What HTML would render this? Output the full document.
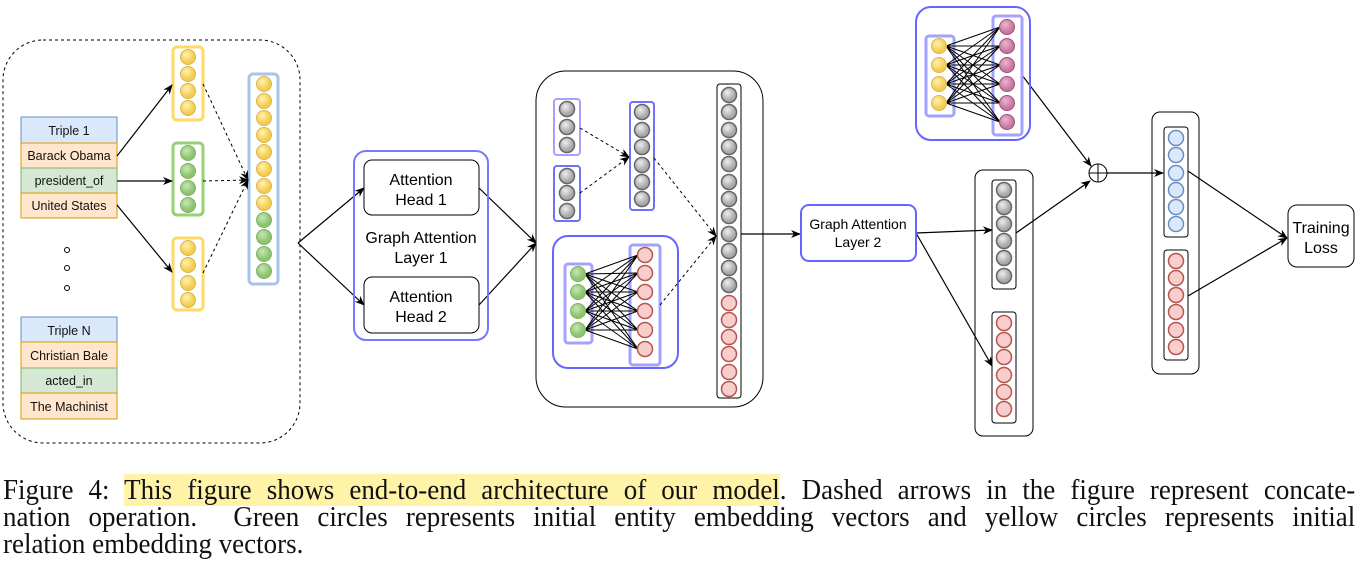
<!DOCTYPE html>
<html><head><meta charset="utf-8"><style>
body{margin:0;width:1362px;height:578px;background:#fff;overflow:hidden;position:relative}
svg{position:absolute;left:0;top:0}
.cap{position:absolute;left:3px;width:1454px;font-family:"Liberation Serif",serif;font-size:29px;color:#111;line-height:27px;white-space:nowrap;transform:scaleX(0.93);transform-origin:0 0}
.j{text-align:justify;text-align-last:justify;white-space:normal}
.hl{background:#fff3a8}
</style></head><body>
<svg width="1362" height="470" viewBox="0 0 1362 470" font-family="Liberation Sans, sans-serif">
<defs>
<radialGradient id="gy" cx="0.4" cy="0.35"><stop offset="0" stop-color="#fff2b0"/><stop offset="1" stop-color="#f5cc50"/></radialGradient>
<radialGradient id="gg" cx="0.4" cy="0.35"><stop offset="0" stop-color="#c6e8b4"/><stop offset="1" stop-color="#8cc36e"/></radialGradient>
<radialGradient id="ga" cx="0.4" cy="0.35"><stop offset="0" stop-color="#eeeeee"/><stop offset="1" stop-color="#a8a8a8"/></radialGradient>
<radialGradient id="gp" cx="0.4" cy="0.35"><stop offset="0" stop-color="#eab6d2"/><stop offset="1" stop-color="#c9779f"/></radialGradient>
<g id="cy"><circle r="7.5" fill="url(#gy)" stroke="#d6b656" stroke-width="1"/></g>
<g id="cg"><circle r="7.5" fill="url(#gg)" stroke="#82b366" stroke-width="1"/></g>
<g id="ca"><circle r="7.5" fill="url(#ga)" stroke="#666" stroke-width="1.5"/></g>
<g id="cr"><circle r="7.5" fill="#f8cecc" stroke="#b85450" stroke-width="1.5"/></g>
<g id="cb"><circle r="7.5" fill="#dae8fc" stroke="#6c8ebf" stroke-width="1.5"/></g>
<g id="cp"><circle r="7.5" fill="url(#gp)" stroke="#9e4f79" stroke-width="1"/></g>
<marker id="ar" markerWidth="10" markerHeight="10" refX="9" refY="5" orient="auto" markerUnits="userSpaceOnUse"><path d="M0,1 L10,5 L0,9 L3,5 Z" fill="#000"/></marker>
</defs>

<rect x="3" y="40" width="297" height="403" rx="40" fill="none" stroke="#000" stroke-dasharray="3,3"/>
<g font-size="12.5" text-anchor="middle" fill="#111">
<rect x="21" y="117" width="96" height="26" fill="#dae8fc" stroke="#6c8ebf"/><text x="69" y="135">Triple 1</text>
<rect x="21" y="143" width="96" height="25" fill="#ffe6cc" stroke="#d79b00"/><text x="69" y="160">Barack Obama</text>
<rect x="21" y="168" width="96" height="25" fill="#d5e8d4" stroke="#82b366"/><text x="69" y="185">president_of</text>
<rect x="21" y="193" width="96" height="25" fill="#ffe6cc" stroke="#d79b00"/><text x="69" y="210">United States</text>
<rect x="21" y="317" width="96" height="25" fill="#dae8fc" stroke="#6c8ebf"/><text x="69" y="335">Triple N</text>
<rect x="21" y="342" width="96" height="26" fill="#ffe6cc" stroke="#d79b00"/><text x="69" y="360">Christian Bale</text>
<rect x="21" y="368" width="96" height="25" fill="#d5e8d4" stroke="#82b366"/><text x="69" y="385">acted_in</text>
<rect x="21" y="393" width="96" height="26" fill="#ffe6cc" stroke="#d79b00"/><text x="69" y="411">The Machinist</text>
</g>
<g fill="none" stroke="#000"><circle cx="67" cy="250" r="2.5"/><circle cx="67" cy="268" r="2.5"/><circle cx="67" cy="288" r="2.5"/></g>

<rect x="173" y="47" width="30" height="73" rx="4" fill="none" stroke="#ffd966" stroke-width="3"/>
<use href="#cy" x="188" y="57"/><use href="#cy" x="188" y="74"/><use href="#cy" x="188" y="91"/><use href="#cy" x="188" y="108"/>
<rect x="173" y="143" width="30" height="72" rx="4" fill="none" stroke="#97d077" stroke-width="3"/>
<use href="#cg" x="188" y="153"/><use href="#cg" x="188" y="171"/><use href="#cg" x="188" y="188"/><use href="#cg" x="188" y="205"/>
<rect x="173" y="238" width="30" height="72" rx="4" fill="none" stroke="#ffd966" stroke-width="3"/>
<use href="#cy" x="188" y="248"/><use href="#cy" x="188" y="265"/><use href="#cy" x="188" y="283"/><use href="#cy" x="188" y="300"/>

<rect x="249" y="74" width="29" height="210" rx="4" fill="none" stroke="#a9c4eb" stroke-width="3"/>
<use href="#cy" x="264" y="84"/><use href="#cy" x="264" y="101"/><use href="#cy" x="264" y="118"/><use href="#cy" x="264" y="135"/><use href="#cy" x="264" y="152"/><use href="#cy" x="264" y="169"/><use href="#cy" x="264" y="186"/><use href="#cy" x="264" y="203"/>
<use href="#cg" x="264" y="220"/><use href="#cg" x="264" y="237"/><use href="#cg" x="264" y="254"/><use href="#cg" x="264" y="271"/>

<g stroke="#000" stroke-width="1.2" fill="none" marker-end="url(#ar)">
<line x1="117" y1="156" x2="172" y2="85"/>
<line x1="117" y1="181" x2="172" y2="181"/>
<line x1="117" y1="205" x2="172" y2="272"/>
</g>
<g stroke="#000" stroke-width="1" fill="none" stroke-dasharray="3,3" marker-end="url(#ar)">
<line x1="203" y1="84" x2="248" y2="180"/>
<line x1="203" y1="181" x2="248" y2="180"/>
<line x1="203" y1="273" x2="248" y2="180"/>
</g>

<g stroke="#000" stroke-width="1.2" fill="none" marker-end="url(#ar)">
<line x1="298" y1="243" x2="364" y2="188"/>
<line x1="298" y1="243" x2="364" y2="305"/>
<line x1="479" y1="188" x2="536" y2="243"/>
<line x1="479" y1="305" x2="536" y2="243"/>
</g>
<rect x="354" y="151" width="134" height="189" rx="12" fill="none" stroke="#7777ff" stroke-width="2"/>
<rect x="364" y="160" width="115" height="55" rx="8" fill="#fff" stroke="#000"/>
<rect x="364" y="277" width="115" height="56" rx="8" fill="#fff" stroke="#000"/>
<g font-size="16" text-anchor="middle" fill="#000">
<text x="421" y="185">Attention</text><text x="421" y="205">Head 1</text>
<text x="421" y="243">Graph Attention</text><text x="421" y="263">Layer 1</text>
<text x="421" y="302">Attention</text><text x="421" y="322">Head 2</text>
</g>

<rect x="536" y="71" width="227" height="336" rx="30" fill="none" stroke="#000"/>
<rect x="554" y="99" width="26" height="56" rx="3" fill="none" stroke="#a3a3ff" stroke-width="2"/>
<use href="#ca" x="567" y="109"/><use href="#ca" x="567" y="127"/><use href="#ca" x="567" y="145"/>
<rect x="554" y="166" width="26" height="55" rx="3" fill="none" stroke="#7070ff" stroke-width="2"/>
<use href="#ca" x="567" y="176"/><use href="#ca" x="567" y="193"/><use href="#ca" x="567" y="211"/>
<rect x="630" y="102" width="24" height="108" rx="3" fill="none" stroke="#7070ff" stroke-width="2"/>
<use href="#ca" x="642" y="112"/><use href="#ca" x="642" y="130"/><use href="#ca" x="642" y="147"/><use href="#ca" x="642" y="165"/><use href="#ca" x="642" y="182"/><use href="#ca" x="642" y="199"/>
<rect x="553" y="236" width="125" height="132" rx="15" fill="none" stroke="#6666ff" stroke-width="2"/>
<rect x="565" y="264" width="27" height="79" rx="3" fill="none" stroke="#a3a3ff" stroke-width="3"/>
<rect x="630" y="245" width="30" height="120" rx="3" fill="none" stroke="#a3a3ff" stroke-width="3"/>
<path stroke="#000" stroke-width="1" fill="none" d="M585 274L638 255M585 274L638 273M585 274L638 292M585 274L638 311M585 274L638 330M585 274L638 349M585 292L638 255M585 292L638 273M585 292L638 292M585 292L638 311M585 292L638 330M585 292L638 349M585 311L638 255M585 311L638 273M585 311L638 292M585 311L638 311M585 311L638 330M585 311L638 349M585 330L638 255M585 330L638 273M585 330L638 292M585 330L638 311M585 330L638 330M585 330L638 349"/>
<use href="#cg" x="578" y="274"/><use href="#cg" x="578" y="292"/><use href="#cg" x="578" y="311"/><use href="#cg" x="578" y="330"/>
<use href="#cr" x="645" y="255"/><use href="#cr" x="645" y="273"/><use href="#cr" x="645" y="292"/><use href="#cr" x="645" y="311"/><use href="#cr" x="645" y="330"/><use href="#cr" x="645" y="349"/>
<g stroke="#000" stroke-width="1" fill="none" stroke-dasharray="3,3" marker-end="url(#ar)">
<line x1="580" y1="128" x2="629" y2="157"/>
<line x1="580" y1="193" x2="629" y2="157"/>
<line x1="654" y1="158" x2="716" y2="236"/>
<line x1="660" y1="305" x2="716" y2="236"/>
</g>
<rect x="717" y="84" width="24" height="314" rx="3" fill="none" stroke="#000"/>
<use href="#ca" x="729" y="95"/><use href="#ca" x="729" y="112"/><use href="#ca" x="729" y="130"/><use href="#ca" x="729" y="147"/><use href="#ca" x="729" y="164"/><use href="#ca" x="729" y="182"/><use href="#ca" x="729" y="199"/><use href="#ca" x="729" y="216"/><use href="#ca" x="729" y="234"/><use href="#ca" x="729" y="251"/><use href="#ca" x="729" y="268"/><use href="#ca" x="729" y="285"/>
<use href="#cr" x="729" y="303"/><use href="#cr" x="729" y="320"/><use href="#cr" x="729" y="337"/><use href="#cr" x="729" y="354"/><use href="#cr" x="729" y="372"/><use href="#cr" x="729" y="389"/>

<g stroke="#000" stroke-width="1.2" fill="none" marker-end="url(#ar)">
<line x1="741" y1="234" x2="800" y2="234"/>
<line x1="916" y1="233" x2="992" y2="230"/>
<line x1="916" y1="233" x2="992" y2="366"/>
<line x1="1022" y1="75" x2="1091" y2="166"/>
<line x1="1016" y1="233" x2="1090" y2="181"/>
<line x1="1107" y1="173" x2="1163" y2="173"/>
<line x1="1188" y1="171" x2="1287" y2="238"/>
<line x1="1188" y1="296" x2="1287" y2="238"/>
</g>
<rect x="801" y="205" width="115" height="56" rx="8" fill="#fff" stroke="#6666ff" stroke-width="2"/>
<g font-size="14" text-anchor="middle" fill="#000"><text x="858" y="229">Graph Attention</text><text x="858" y="247">Layer 2</text></g>

<rect x="975" y="170" width="58" height="266" rx="8" fill="none" stroke="#000"/>
<rect x="992" y="180" width="24" height="109" rx="3" fill="none" stroke="#000"/>
<use href="#ca" x="1004" y="190"/><use href="#ca" x="1004" y="207"/><use href="#ca" x="1004" y="224"/><use href="#ca" x="1004" y="241"/><use href="#ca" x="1004" y="258"/><use href="#ca" x="1004" y="276"/>
<rect x="992" y="312" width="24" height="111" rx="3" fill="none" stroke="#000"/>
<use href="#cr" x="1004" y="323"/><use href="#cr" x="1004" y="340"/><use href="#cr" x="1004" y="357"/><use href="#cr" x="1004" y="375"/><use href="#cr" x="1004" y="392"/><use href="#cr" x="1004" y="409"/>

<rect x="916" y="7" width="114" height="133" rx="15" fill="none" stroke="#6666ff" stroke-width="2"/>
<rect x="926" y="36" width="28" height="80" rx="3" fill="none" stroke="#a3a3ff" stroke-width="3"/>
<rect x="993" y="16" width="29" height="119" rx="3" fill="none" stroke="#a3a3ff" stroke-width="3"/>
<path stroke="#000" stroke-width="1" fill="none" d="M946 46L1000 27M946 46L1000 46M946 46L1000 65M946 46L1000 84M946 46L1000 103M946 46L1000 122M946 65L1000 27M946 65L1000 46M946 65L1000 65M946 65L1000 84M946 65L1000 103M946 65L1000 122M946 84L1000 27M946 84L1000 46M946 84L1000 65M946 84L1000 84M946 84L1000 103M946 84L1000 122M946 103L1000 27M946 103L1000 46M946 103L1000 65M946 103L1000 84M946 103L1000 103M946 103L1000 122"/>
<use href="#cy" x="939" y="46"/><use href="#cy" x="939" y="65"/><use href="#cy" x="939" y="84"/><use href="#cy" x="939" y="103"/>
<use href="#cp" x="1007" y="27"/><use href="#cp" x="1007" y="46"/><use href="#cp" x="1007" y="65"/><use href="#cp" x="1007" y="84"/><use href="#cp" x="1007" y="103"/><use href="#cp" x="1007" y="122"/>

<circle cx="1098" cy="173" r="9" fill="#fff" stroke="#000"/>
<path d="M1089 173H1107M1098 164V182" stroke="#000"/>

<rect x="1152" y="112" width="47" height="262" rx="8" fill="none" stroke="#000"/>
<rect x="1164" y="127" width="24" height="110" rx="3" fill="none" stroke="#000"/>
<use href="#cb" x="1176" y="138"/><use href="#cb" x="1176" y="155"/><use href="#cb" x="1176" y="173"/><use href="#cb" x="1176" y="190"/><use href="#cb" x="1176" y="207"/><use href="#cb" x="1176" y="224"/>
<rect x="1164" y="250" width="24" height="110" rx="3" fill="none" stroke="#000"/>
<use href="#cr" x="1176" y="261"/><use href="#cr" x="1176" y="278"/><use href="#cr" x="1176" y="295"/><use href="#cr" x="1176" y="312"/><use href="#cr" x="1176" y="330"/><use href="#cr" x="1176" y="347"/>

<rect x="1288" y="205" width="66" height="62" rx="9" fill="#fff" stroke="#000"/>
<g font-size="16" text-anchor="middle" fill="#000"><text x="1321" y="233">Training</text><text x="1321" y="253">Loss</text></g>
</svg>

<div class="cap j" style="top:477px">Figure 4: <span class="hl">This figure shows end-to-end architecture of our model</span>. Dashed arrows in the figure represent concate-</div>
<div class="cap j" style="top:504px">nation operation. &nbsp;Green circles represents initial entity embedding vectors and yellow circles represents initial</div>
<div class="cap" style="top:531px">relation embedding vectors.</div>
</body></html>
